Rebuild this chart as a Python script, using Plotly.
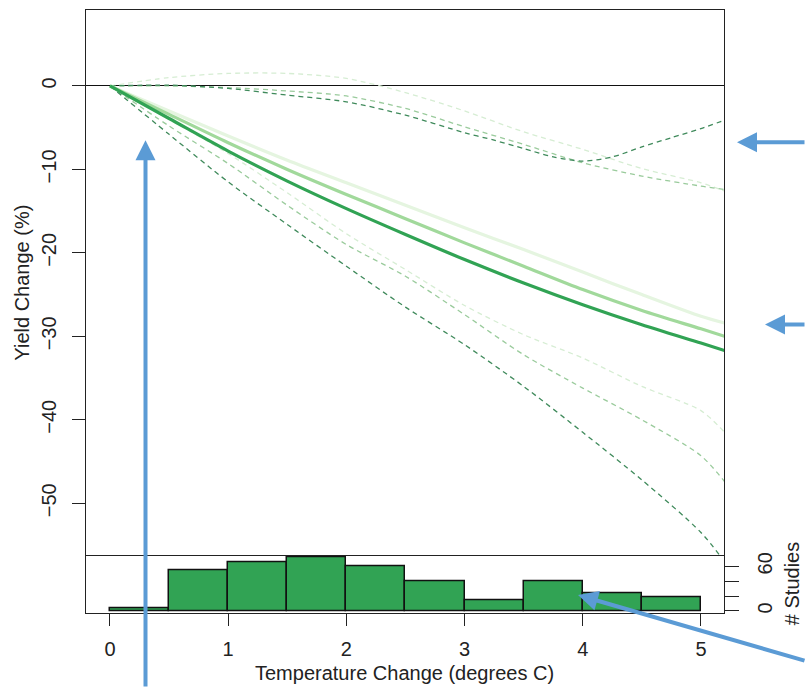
import plotly.graph_objects as go

# ---- data ----
temp = [0, 0.5, 1.0, 1.5, 2.0, 2.5, 3.0, 3.5, 4.0, 4.5, 5.0, 5.2]

mean_dark = [0, -3.9, -7.8, -11.4, -14.7, -17.8, -20.8, -23.6, -26.2, -28.6, -30.8, -31.7]
mean_mid = [0, -3.4, -6.8, -10.0, -13.0, -15.9, -18.8, -21.6, -24.4, -26.9, -29.1, -30.0]
mean_light = [0, -3.0, -6.0, -8.9, -11.6, -14.3, -17.0, -19.6, -22.3, -25.0, -27.6, -28.4]

temp_upper_dark = [0, 0.5, 1.0, 1.5, 2.0, 2.5, 3.0, 3.25, 3.5, 3.75, 4.0, 4.25, 4.5, 4.75, 5.0, 5.2]
upper_dark = [0, 0.1, -0.3, -1.1, -1.9, -3.5, -5.6, -6.5, -7.5, -8.5, -9.0, -8.5, -7.3, -6.2, -5.1, -4.1]
upper_mid = [0, 0.0, -0.2, -0.6, -1.2, -2.7, -4.9, -7.0, -9.2, -10.8, -12.0, -12.4]
upper_light = [0, 1.0, 1.5, 1.5, 0.9, -0.8, -3.0, -5.5, -7.6, -9.9, -11.6, -12.6]

lower_dark = [0, -5.8, -11.5, -16.6, -21.6, -26.5, -31.0, -36.0, -41.5, -47.2, -53.5, -57.0]
lower_mid = [0, -4.8, -9.3, -14.3, -19.0, -22.8, -27.4, -32.2, -36.2, -40.0, -44.3, -47.4]
lower_light = [0, -4.0, -8.1, -12.8, -17.7, -22.0, -26.3, -29.8, -32.6, -36.0, -38.9, -41.5]

bin_centers = [0.25, 0.75, 1.25, 1.75, 2.25, 2.75, 3.25, 3.75, 4.25, 4.75]
study_counts = [4, 55, 65, 72, 60, 40, 15, 40, 24, 18]

x_ticks = [0, 1, 2, 3, 4, 5]
y_ticks = [0, -10, -20, -30, -40, -50]
hist_ticks = [0, 20, 40, 60]
hist_ticktext = ["0", "", "", "60"]

# ---- styles ----
W, H = 806, 688
L, R, T, B = 86, 724, 7, 613
SPLIT = 555
FONT = "Liberation Sans, Arial, sans-serif"
ARROW = "#5b9bd5"

solid_cols = {"dark": "#31a354", "mid": "#a1d99b", "light": "#e5f5e0"}
dash_cols = {"dark": "#3f8a5b", "mid": "#9acb9c", "light": "#d6edd3"}

fig = go.Figure()

# histogram
fig.add_trace(go.Bar(x=bin_centers, y=study_counts, width=0.5,
                     marker=dict(color="#31a354", line=dict(color="#111", width=1.5)),
                     xaxis="x", yaxis="y", showlegend=False))

# dashed bands
bands = [("light", temp, upper_light), ("light", temp, lower_light),
         ("mid", temp, upper_mid), ("mid", temp, lower_mid),
         ("dark", temp_upper_dark, upper_dark), ("dark", temp, lower_dark)]
for key, xs, ser in bands:
    fig.add_trace(go.Scatter(x=xs, y=ser, mode="lines", xaxis="x2", yaxis="y2",
                             line=dict(color=dash_cols[key], width=1.3, dash="5px,4px",
                                       shape="spline", smoothing=0.8),
                             showlegend=False))

# mean lines
for key, ser in [("light", mean_light), ("mid", mean_mid), ("dark", mean_dark)]:
    fig.add_trace(go.Scatter(x=temp, y=ser, mode="lines", xaxis="x2", yaxis="y2",
                             line=dict(color=solid_cols[key], width=3.2,
                                       shape="spline", smoothing=0.8),
                             showlegend=False))

xr = [-0.203, 5.195]
split_frac = (B - SPLIT) / (B - T)
axis_common = dict(showgrid=False, showline=True, linecolor="#222", linewidth=1.4,
                   tickfont=dict(family=FONT, size=20, color="#222"),
                   tickcolor="#222", tickwidth=1.3)

fig.update_layout(
    width=W, height=H,
    margin=dict(l=L, r=W - R, t=T, b=H - B, pad=0),
    paper_bgcolor="white", plot_bgcolor="white",
    font=dict(family=FONT, size=20, color="#222"),
    bargap=0,
    xaxis=dict(domain=[0, 1], range=xr, anchor="y", tickvals=x_ticks, mirror=False,
               ticks="outside", ticklen=12, zeroline=False,
               ticklabelstandoff=6, **axis_common),
    yaxis=dict(domain=[0, split_frac], range=[-2.7, 74.7], anchor="x", side="right",
               tickvals=hist_ticks, ticktext=hist_ticktext, tickangle=-90, mirror=True,
               ticks="outside", ticklen=14, zeroline=False, ticklabelstandoff=9,
               **axis_common),
    xaxis2=dict(domain=[0, 1], range=xr, anchor="y2", showticklabels=False, mirror=True,
                ticks="", zeroline=False, **axis_common),
    yaxis2=dict(domain=[split_frac, 1], range=[-56.23, 9.10], anchor="x2", mirror=True,
                tickvals=y_ticks, tickangle=-90, ticks="outside", ticklen=13,
                zeroline=True, zerolinecolor="#111", zerolinewidth=1.3,
                ticklabelstandoff=8, **axis_common),
)

def px(xp, yp):
    return (xp - L) / (R - L), (B - yp) / (B - T)

annotations = []
# axis titles
annotations.append(dict(text="Temperature Change (degrees C)", xref="paper", yref="paper",
                        x=px(404, 0)[0], y=px(0, 673)[1], showarrow=False,
                        xanchor="center", yanchor="middle",
                        font=dict(family=FONT, size=20, color="#222")))
annotations.append(dict(text="Yield Change (%)", xref="paper", yref="paper",
                        x=px(22, 0)[0], y=px(0, 281)[1], showarrow=False, textangle=-90,
                        xanchor="center", yanchor="middle",
                        font=dict(family=FONT, size=20, color="#222")))
annotations.append(dict(text="# Studies", xref="paper", yref="paper",
                        x=px(792, 0)[0], y=px(0, 583)[1], showarrow=False, textangle=-90,
                        xanchor="center", yanchor="middle",
                        font=dict(family=FONT, size=20, color="#222")))

# blue arrows (overlay annotations)
for (tx, ty, tailx, taily) in [(145.5, 138, 145.5, 720),
                               (737, 140, 830, 140),
                               (765, 323, 830, 323),
                               (578, 595, 830, 661)]:
    ax_, ay_ = px(tx, ty)
    annotations.append(dict(text="", xref="paper", yref="paper", x=ax_, y=ay_,
                            ax=tailx - tx, ay=taily - ty, showarrow=True,
                            arrowhead=2, arrowsize=1.0, arrowwidth=4,
                            arrowcolor=ARROW, standoff=0))

fig.update_layout(annotations=annotations)

fig.write_html("out.html")
